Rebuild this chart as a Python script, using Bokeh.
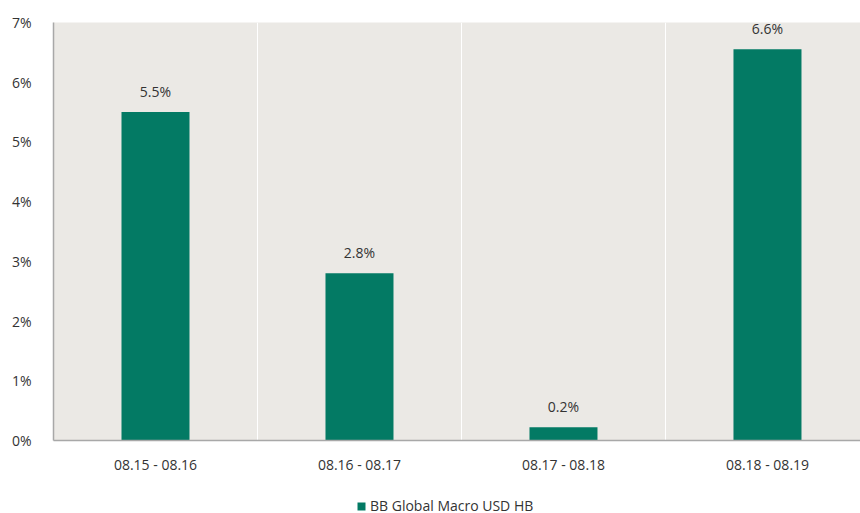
from bokeh.plotting import figure
from bokeh.models import ColumnDataSource, FixedTicker, Legend, LegendItem, Range1d
from bokeh.layouts import column
from bokeh.embed import file_html
from bokeh.resources import INLINE
from bokeh.core.properties import value

categories = ["08.15 - 08.16", "08.16 - 08.17", "08.17 - 08.18", "08.18 - 08.19"]
values = [5.5, 2.8, 0.22, 6.55]
value_labels = ["5.5%", "2.8%", "0.2%", "6.6%"]
y_ticks = [0, 1, 2, 3, 4, 5, 6, 7]
series_name = "BB Global Macro USD HB"

FONT = "Open Sans"
GREEN = "#037A64"
TXT = "#333333"
FS = "14px"

xs = [i + 0.5 for i in range(len(categories))]
src = ColumnDataSource(dict(x=xs, top=values, lab=value_labels))

p = figure(width=860, height=476, output_backend="svg", toolbar_location=None,
           x_range=Range1d(0, 3.956), y_range=Range1d(0, 7))
p.min_border_left = 53
p.min_border_right = 0
p.min_border_top = 22
p.min_border_bottom = 34
p.outline_line_color = None
p.background_fill_color = "#EBE9E5"
p.border_fill_color = "white"

r = p.vbar(x="x", top="top", width=1/3, source=src, color=GREEN, line_color=None)
p.text(x="x", y="top", text="lab", source=src, text_align="center", text_baseline="middle",
       y_offset=-21, text_font=value(FONT), text_font_size=FS, text_color=TXT)

p.xgrid.ticker = FixedTicker(ticks=[1, 2, 3])
p.xgrid.grid_line_color = "white"
p.xgrid.grid_line_width = 1
p.ygrid.grid_line_color = None

p.xaxis.ticker = FixedTicker(ticks=xs)
p.xaxis.major_label_overrides = {x: c for x, c in zip(xs, categories)}
p.yaxis.ticker = FixedTicker(ticks=y_ticks)
p.yaxis.major_label_overrides = {t: f"{t}%" for t in y_ticks}
for ax in (p.xaxis[0], p.yaxis[0]):
    ax.axis_line_color = "#A8A8A8"
    ax.axis_line_width = 1.5
    ax.major_tick_line_color = None
    ax.minor_tick_line_color = None
    ax.major_label_text_font = FONT
    ax.major_label_text_font_size = FS
    ax.major_label_text_color = TXT
p.xaxis.major_label_standoff = 8
p.yaxis.major_label_standoff = 16

# legend strip
lg = figure(width=860, height=37, output_backend="svg", toolbar_location=None,
            x_range=Range1d(0, 1), y_range=Range1d(0, 1),
            x_axis_location=None, y_axis_location=None)
lg.min_border_left = 0
lg.min_border_right = 0
lg.min_border_top = 0
lg.min_border_bottom = 0
lg.outline_line_color = None
lg.background_fill_color = "white"
lg.grid.visible = False
lr = lg.vbar(x=[5], top=[1], width=0.1, color=GREEN, line_color=None)
legend = Legend(items=[LegendItem(label=series_name, renderers=[lr])], location=(303, -2),
                orientation="horizontal", background_fill_alpha=0, border_line_alpha=0,
                glyph_width=10, glyph_height=10, label_standoff=4,
                label_text_font=FONT, label_text_font_size=FS, label_text_color=TXT,
                padding=0, margin=0, label_height=14, spacing=0)
lg.add_layout(legend)

open("out.html", "w").write(file_html(column(p, lg, spacing=0), INLINE))
